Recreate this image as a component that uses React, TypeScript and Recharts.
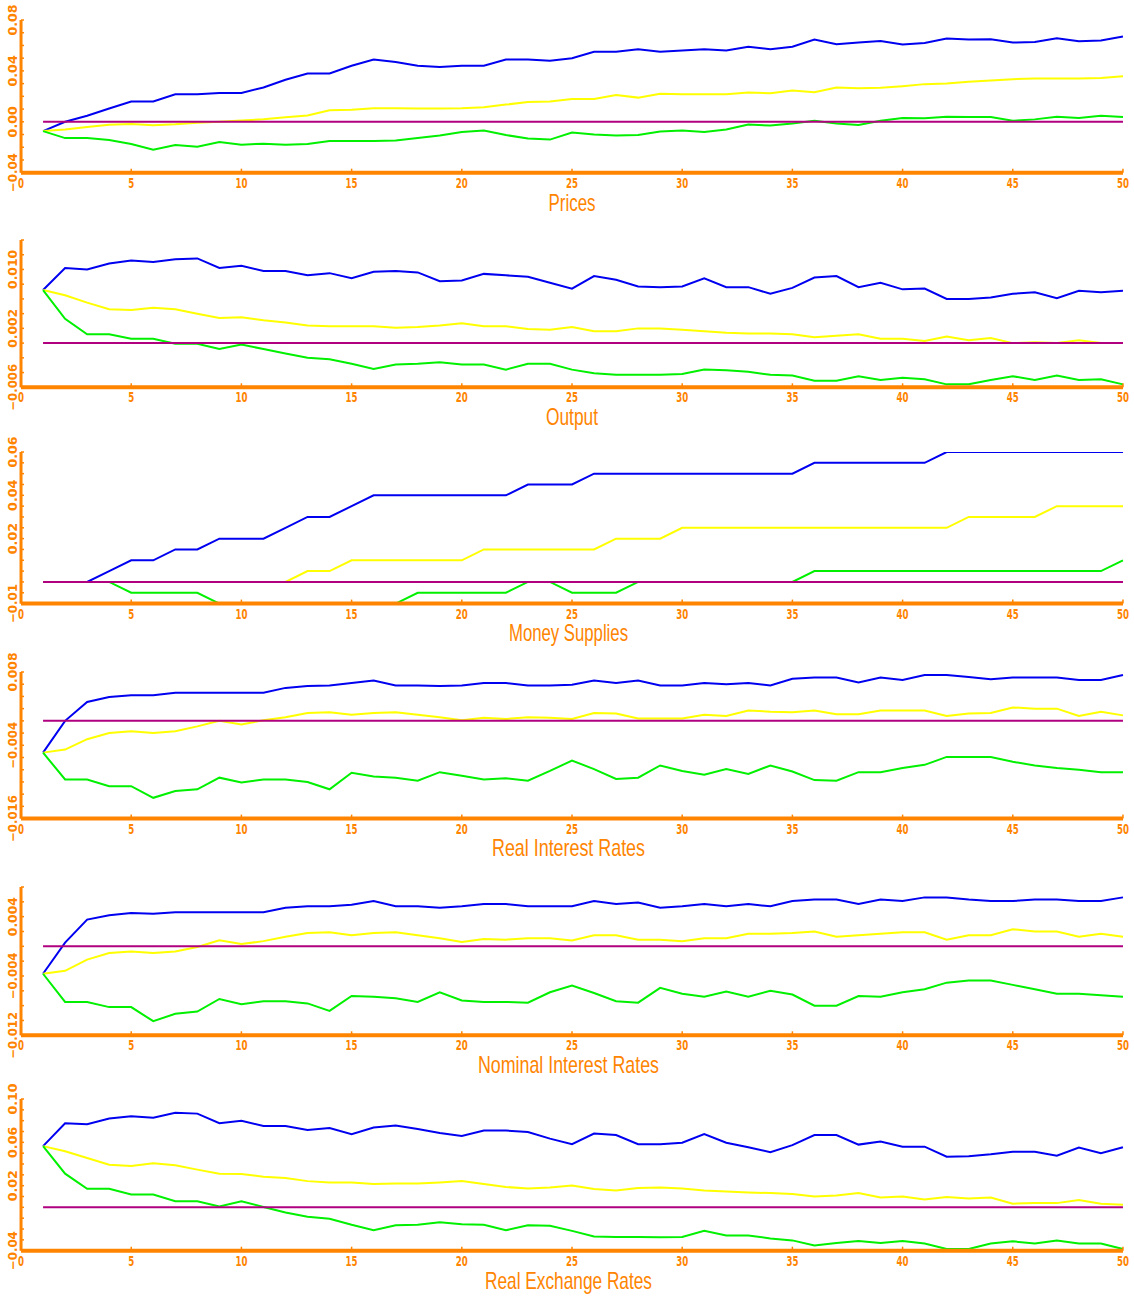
import { LineChart, Line, XAxis, YAxis, ReferenceLine } from 'recharts'

const ORANGE = '#ff8400'
const BLUE = '#0000f0'
const YELLOW = '#ffff00'
const GREEN = '#00f000'
const PURPLE = '#b0007f'

const periods = [
  1, 2, 3, 4, 5, 6, 7, 8, 9, 10, 11, 12, 13, 14, 15, 16, 17, 18, 19, 20, 21, 22, 23, 24, 25,
  26, 27, 28, 29, 30, 31, 32, 33, 34, 35, 36, 37, 38, 39, 40, 41, 42, 43, 44, 45, 46, 47, 48, 49, 50,
]
const xTicks = [0, 5, 10, 15, 20, 25, 30, 35, 40, 45, 50]

// ── Prices ───────────────────────────────────────────────────────────────────
const pricesBlue = [
  -0.0073, 0.0, 0.0047, 0.0105, 0.016, 0.016, 0.0217, 0.0217, 0.0227, 0.0227,
  0.027, 0.033, 0.038, 0.038, 0.044, 0.049, 0.047, 0.044, 0.043, 0.044,
  0.044, 0.049, 0.049, 0.048, 0.05, 0.055, 0.055, 0.057, 0.055, 0.056,
  0.057, 0.056, 0.059, 0.057, 0.059, 0.0646, 0.061, 0.0623, 0.0635, 0.0607,
  0.062, 0.0654, 0.0646, 0.0648, 0.0623, 0.0627, 0.0656, 0.0633, 0.0639, 0.067,
]
const pricesYellow = [
  -0.0073, -0.006, -0.004, -0.0024, -0.0018, -0.0028, -0.002, -0.0008, 0.0, 0.001,
  0.002, 0.0035, 0.005, 0.009, 0.0095, 0.0107, 0.0107, 0.0104, 0.0104, 0.0107,
  0.0115, 0.0135, 0.0155, 0.016, 0.018, 0.018, 0.021, 0.019, 0.022, 0.0217,
  0.0217, 0.0217, 0.023, 0.0225, 0.0245, 0.0233, 0.027, 0.0264, 0.0267, 0.028,
  0.0296, 0.03, 0.0314, 0.0325, 0.0335, 0.034, 0.034, 0.034, 0.0345, 0.0358,
]
const pricesGreen = [
  -0.0073, -0.0128, -0.0128, -0.0144, -0.0175, -0.022, -0.0183, -0.0196, -0.0159, -0.018,
  -0.0172, -0.018, -0.0175, -0.0151, -0.0151, -0.0151, -0.0147, -0.0128, -0.0108, -0.0081,
  -0.0069, -0.0104, -0.0132, -0.014, -0.0085, -0.01, -0.0108, -0.0104, -0.0077, -0.0069,
  -0.0081, -0.0061, -0.0022, -0.003, -0.0014, 0.0008, -0.0013, -0.0026, 0.0008, 0.0029,
  0.0027, 0.0039, 0.0037, 0.0037, 0.0008, 0.0019, 0.0039, 0.0029, 0.0047, 0.0037,
]

// ── Output ───────────────────────────────────────────────────────────────────
const outputBlue = [
  0.0072, 0.0102, 0.01, 0.0108, 0.0112, 0.011, 0.0114, 0.0115, 0.0102, 0.0105,
  0.0098, 0.0098, 0.0092, 0.0095, 0.0088, 0.0097, 0.0098, 0.0096, 0.0084, 0.0085,
  0.0094, 0.0092, 0.009, 0.0082, 0.0074, 0.0091, 0.0086, 0.0077, 0.0076, 0.0077,
  0.0088, 0.0076, 0.0076, 0.0067, 0.0075, 0.0089, 0.0091, 0.0076, 0.0082, 0.0073,
  0.0074, 0.006, 0.006, 0.0062, 0.0067, 0.0069, 0.0061, 0.0071, 0.0069, 0.0071,
]
const outputYellow = [
  0.0072, 0.0065, 0.0055, 0.0046, 0.0045, 0.0048, 0.0046, 0.004, 0.0034, 0.0035,
  0.0031, 0.0028, 0.0024, 0.0023, 0.0023, 0.0023, 0.0021, 0.0022, 0.0024, 0.0027,
  0.0023, 0.0023, 0.0019, 0.0018, 0.0022, 0.0016, 0.0016, 0.002, 0.002, 0.0018,
  0.0016, 0.0014, 0.0013, 0.0013, 0.0012, 0.0008, 0.001, 0.0012, 0.0006, 0.0006,
  0.0003, 0.0009, 0.0004, 0.0007, 0.0, 0.0001, 0.0, 0.0004, 0.0, 0.0,
]
const outputGreen = [
  0.0072, 0.0033, 0.0012, 0.0012, 0.0006, 0.0006, -0.0001, -0.0001, -0.0008, -0.0002,
  -0.0008, -0.0014, -0.002, -0.0022, -0.0028, -0.0035, -0.0029, -0.0028, -0.0026, -0.0029,
  -0.0029, -0.0036, -0.0028, -0.0028, -0.0036, -0.0041, -0.0043, -0.0043, -0.0043, -0.0042,
  -0.0036, -0.0037, -0.0039, -0.0043, -0.0044, -0.0051, -0.0051, -0.0045, -0.005, -0.0047,
  -0.0049, -0.0056, -0.0056, -0.005, -0.0045, -0.005, -0.0044, -0.005, -0.0049, -0.0056,
]

// ── Money Supplies ───────────────────────────────────────────────────────────
const moneyBlue = [
  0, 0, 0, 0.005, 0.01, 0.01, 0.015, 0.015, 0.02, 0.02,
  0.02, 0.025, 0.03, 0.03, 0.035, 0.04, 0.04, 0.04, 0.04, 0.04,
  0.04, 0.04, 0.045, 0.045, 0.045, 0.05, 0.05, 0.05, 0.05, 0.05,
  0.05, 0.05, 0.05, 0.05, 0.05, 0.055, 0.055, 0.055, 0.055, 0.055,
  0.055, 0.06, 0.06, 0.06, 0.06, 0.06, 0.06, 0.06, 0.06, 0.06,
]
const moneyYellow = [
  0, 0, 0, 0, 0, 0, 0, 0, 0, 0,
  0, 0, 0.005, 0.005, 0.01, 0.01, 0.01, 0.01, 0.01, 0.01,
  0.015, 0.015, 0.015, 0.015, 0.015, 0.015, 0.02, 0.02, 0.02, 0.025,
  0.025, 0.025, 0.025, 0.025, 0.025, 0.025, 0.025, 0.025, 0.025, 0.025,
  0.025, 0.025, 0.03, 0.03, 0.03, 0.03, 0.035, 0.035, 0.035, 0.035,
]
const moneyGreen = [
  0, 0, 0, 0, -0.005, -0.005, -0.005, -0.005, -0.01, -0.01,
  -0.01, -0.01, -0.01, -0.01, -0.01, -0.01, -0.01, -0.005, -0.005, -0.005,
  -0.005, -0.005, 0, 0, -0.005, -0.005, -0.005, 0, 0, 0,
  0, 0, 0, 0, 0, 0.005, 0.005, 0.005, 0.005, 0.005,
  0.005, 0.005, 0.005, 0.005, 0.005, 0.005, 0.005, 0.005, 0.005, 0.01,
]

// ── Real Interest Rates ──────────────────────────────────────────────────────
const realRateBlue = [
  -0.0052, 0.0, 0.0031, 0.0039, 0.0042, 0.0042, 0.0046, 0.0046, 0.0046, 0.0046,
  0.0046, 0.0054, 0.0057, 0.0058, 0.0062, 0.0066, 0.0058, 0.0058, 0.0057, 0.0058,
  0.0062, 0.0062, 0.0058, 0.0058, 0.0059, 0.0066, 0.0062, 0.0066, 0.0058, 0.0058,
  0.0062, 0.006, 0.0062, 0.0058, 0.0069, 0.0071, 0.0071, 0.0063, 0.0071, 0.0067,
  0.0075, 0.0075, 0.0072, 0.0068, 0.0071, 0.0071, 0.0071, 0.0067, 0.0067, 0.0075,
]
const realRateYellow = [
  -0.0052, -0.0047, -0.003, -0.002, -0.0017, -0.002, -0.0017, -0.0009, 0.0, -0.0006,
  0.0001, 0.0006, 0.0013, 0.0014, 0.001, 0.0013, 0.0014, 0.001, 0.0006, 0.0001,
  0.0005, 0.0003, 0.0006, 0.0005, 0.0003, 0.0013, 0.0012, 0.0004, 0.0004, 0.0004,
  0.001, 0.0008, 0.0017, 0.0015, 0.0014, 0.0017, 0.0011, 0.0011, 0.0017, 0.0017,
  0.0017, 0.0008, 0.0012, 0.0013, 0.0022, 0.002, 0.002, 0.0008, 0.0015, 0.0009,
]
const realRateGreen = [
  -0.0052, -0.0096, -0.0096, -0.0107, -0.0107, -0.0126, -0.0115, -0.0112, -0.0093, -0.0101,
  -0.0096, -0.0096, -0.01, -0.0112, -0.0085, -0.0091, -0.0093, -0.0098, -0.0084, -0.009,
  -0.0096, -0.0094, -0.0098, -0.0082, -0.0065, -0.0079, -0.0095, -0.0093, -0.0073, -0.0082,
  -0.0088, -0.0079, -0.0087, -0.0073, -0.0083, -0.0097, -0.0098, -0.0084, -0.0084, -0.0077,
  -0.0072, -0.0059, -0.0059, -0.0059, -0.0067, -0.0073, -0.0077, -0.008, -0.0084, -0.0084,
]

// ── Nominal Interest Rates ───────────────────────────────────────────────────
const nominalBlue = [
  -0.0037, 0.0005, 0.0036, 0.0042, 0.0045, 0.0044, 0.0046, 0.0046, 0.0046, 0.0046,
  0.0046, 0.0052, 0.0054, 0.0054, 0.0056, 0.0061, 0.0054, 0.0054, 0.0052, 0.0054,
  0.0057, 0.0057, 0.0054, 0.0054, 0.0054, 0.0061, 0.0057, 0.0059, 0.0052, 0.0054,
  0.0057, 0.0054, 0.0057, 0.0054, 0.0061, 0.0063, 0.0063, 0.0057, 0.0063, 0.0061,
  0.0066, 0.0066, 0.0063, 0.0061, 0.0061, 0.0063, 0.0063, 0.0061, 0.0061, 0.0066,
]
const nominalYellow = [
  -0.0037, -0.0033, -0.0018, -0.0009, -0.0007, -0.0009, -0.0007, -0.0001, 0.0008, 0.0003,
  0.0007, 0.0013, 0.0018, 0.0019, 0.0015, 0.0018, 0.0019, 0.0015, 0.0011, 0.0006,
  0.001, 0.0009, 0.0011, 0.0011, 0.0008, 0.0015, 0.0015, 0.0009, 0.0009, 0.0007,
  0.0011, 0.0011, 0.0017, 0.0017, 0.0018, 0.002, 0.0013, 0.0015, 0.0017, 0.0019,
  0.0019, 0.0009, 0.0015, 0.0015, 0.0023, 0.002, 0.002, 0.0013, 0.0017, 0.0013,
]
const nominalGreen = [
  -0.0037, -0.0075, -0.0075, -0.0082, -0.0082, -0.0101, -0.0091, -0.0088, -0.0071, -0.0078,
  -0.0074, -0.0074, -0.0077, -0.0087, -0.0067, -0.0068, -0.007, -0.0075, -0.0062, -0.0073,
  -0.0075, -0.0075, -0.0076, -0.0062, -0.0053, -0.0063, -0.0074, -0.0076, -0.0056, -0.0064,
  -0.0068, -0.0061, -0.0068, -0.006, -0.0065, -0.008, -0.008, -0.0067, -0.0068, -0.0062,
  -0.0058, -0.0049, -0.0046, -0.0046, -0.0052, -0.0058, -0.0064, -0.0064, -0.0066, -0.0068,
]

// ── Real Exchange Rates ──────────────────────────────────────────────────────
const exchangeBlue = [
  0.0565, 0.0776, 0.0767, 0.0819, 0.0841, 0.0828, 0.0872, 0.0865, 0.0776, 0.08,
  0.0751, 0.0751, 0.0713, 0.0732, 0.0676, 0.0737, 0.0755, 0.0723, 0.0686, 0.0658,
  0.0709, 0.0709, 0.0695, 0.0634, 0.0583, 0.0681, 0.0667, 0.0583, 0.0583, 0.0597,
  0.0676, 0.0597, 0.0555, 0.0509, 0.0574, 0.0667, 0.0667, 0.0579, 0.0607, 0.056,
  0.056, 0.0467, 0.0472, 0.049, 0.0513, 0.0513, 0.0476, 0.0551, 0.05, 0.0555,
]
const exchangeYellow = [
  0.0565, 0.0518, 0.0456, 0.0394, 0.0381, 0.0407, 0.0388, 0.0348, 0.0311, 0.0307,
  0.0283, 0.027, 0.0242, 0.023, 0.023, 0.0216, 0.022, 0.022, 0.023, 0.0244,
  0.0216, 0.0188, 0.0174, 0.0183, 0.0202, 0.0169, 0.0155, 0.0179, 0.0183, 0.0174,
  0.0155, 0.0146, 0.0137, 0.0132, 0.0123, 0.01, 0.0109, 0.0132, 0.009, 0.01,
  0.0072, 0.0095, 0.0081, 0.009, 0.0034, 0.0039, 0.0039, 0.0067, 0.0034, 0.0025,
]
const exchangeGreen = [
  0.0565, 0.0311, 0.0171, 0.0171, 0.0118, 0.0118, 0.0056, 0.0056, 0.0009, 0.0056,
  0.0004, -0.0047, -0.0087, -0.0105, -0.0161, -0.0212, -0.0166, -0.0161, -0.0138, -0.0156,
  -0.0161, -0.0212, -0.0166, -0.017, -0.0217, -0.0268, -0.0273, -0.0273, -0.0277, -0.0273,
  -0.0217, -0.0259, -0.0259, -0.0287, -0.0305, -0.0352, -0.0328, -0.031, -0.0328, -0.031,
  -0.0333, -0.0384, -0.0384, -0.0333, -0.0314, -0.0333, -0.0305, -0.0333, -0.0333, -0.0384,
]

interface Panel {
  title: string
  titleX: number
  titleWidth: number
  top: number
  bottom: number
  domain: [number, number]
  minorStep: number
  labels: number[]
  labelText: string[]
  blue: number[]
  yellow: number[]
  green: number[]
}

const panels: Panel[] = [
  { title: 'Prices', titleX: 572, titleWidth: 47, top: 20, bottom: 172.7, domain: [-0.04, 0.08], minorStep: 0.01,
    labels: [-0.04, 0, 0.04, 0.08], labelText: ['\u22120.04', '0.00', '0.04', '0.08'],
    blue: pricesBlue, yellow: pricesYellow, green: pricesGreen },
  { title: 'Output', titleX: 572, titleWidth: 52, top: 240, bottom: 387.3, domain: [-0.006, 0.014], minorStep: 0.002,
    labels: [-0.006, 0.002, 0.01], labelText: ['\u22120.006', '0.002', '0.010'],
    blue: outputBlue, yellow: outputYellow, green: outputGreen },
  { title: 'Money Supplies', titleX: 568.5, titleWidth: 119, top: 451.7, bottom: 603.3, domain: [-0.01, 0.06], minorStep: 0.005,
    labels: [-0.01, 0.02, 0.04, 0.06], labelText: ['\u22120.01', '0.02', '0.04', '0.06'],
    blue: moneyBlue, yellow: moneyYellow, green: moneyGreen },
  { title: 'Real Interest Rates', titleX: 568.5, titleWidth: 153, top: 671.7, bottom: 818.3, domain: [-0.016, 0.008], minorStep: 0.002,
    labels: [-0.016, -0.004, 0.008], labelText: ['\u22120.016', '\u22120.004', '0.008'],
    blue: realRateBlue, yellow: realRateYellow, green: realRateGreen },
  { title: 'Nominal Interest Rates', titleX: 568.5, titleWidth: 181, top: 886.7, bottom: 1035, domain: [-0.012, 0.008], minorStep: 0.002,
    labels: [-0.012, -0.004, 0.004], labelText: ['\u22120.012', '\u22120.004', '0.004'],
    blue: nominalBlue, yellow: nominalYellow, green: nominalGreen },
  { title: 'Real Exchange Rates', titleX: 568.5, titleWidth: 167, top: 1099, bottom: 1250.7, domain: [-0.04, 0.1], minorStep: 0.01,
    labels: [-0.04, 0.02, 0.06, 0.1], labelText: ['\u22120.04', '0.02', '0.06', '0.10'],
    blue: exchangeBlue, yellow: exchangeYellow, green: exchangeGreen },
]

const TOP_PAD = 30
const X_AXIS_H = 28
const CHART_W = 1134

function tickSteps(min: number, max: number, step: number) {
  const out: number[] = []
  const n = Math.round((max - min) / step)
  for (let i = 0; i <= n; i++) out.push(+(min + i * step).toFixed(6))
  return out
}

function ChartPanel({ p }: { p: Panel }) {
  const plotH = p.bottom - p.top
  const height = plotH + TOP_PAD + X_AXIS_H
  const axisY = TOP_PAD + plotH
  const data = periods.map((t, i) => ({ t, blue: p.blue[i], yellow: p.yellow[i], green: p.green[i] }))
  const yTicks = tickSteps(p.domain[0], p.domain[1], p.minorStep)

  const YTick = (props: any) => {
    const { y, payload } = props
    const idx = p.labels.findIndex((v) => Math.abs(v - payload.value) < 1e-9)
    const txt = idx >= 0 ? p.labelText[idx] : ''
    return (
      <g>
        <line x1={21} x2={24} y1={y} y2={y} stroke={ORANGE} strokeWidth={1.5} />
        {idx >= 0 && (
          <text
            x={13} y={y}
            transform={`rotate(-90 13 ${y})`}
            textAnchor="middle" dominantBaseline="central"
            fill={ORANGE} fontSize={12} fontWeight="bold"
            fontFamily="'DejaVu Sans Condensed', 'DejaVu Sans', sans-serif"
            textLength={txt.length * 7.8} lengthAdjust="spacingAndGlyphs"
          >
            {txt}
          </text>
        )}
      </g>
    )
  }

  const XTick = (props: any) => {
    const { x, payload } = props
    const s = String(payload.value)
    return (
      <g>
        <line x1={x} x2={x} y1={axisY} y2={axisY - 4} stroke={ORANGE} strokeWidth={1.5} />
        <text
          x={x} y={axisY + 10}
          textAnchor="middle" dominantBaseline="central"
          fill={ORANGE} fontSize={14} fontWeight="bold"
          fontFamily="'DejaVu Sans Condensed', 'DejaVu Sans', sans-serif"
          textLength={s.length * 6} lengthAdjust="spacingAndGlyphs"
        >
          {s}
        </text>
      </g>
    )
  }

  return (
    <div style={{ position: 'absolute', left: 0, top: p.top - TOP_PAD, width: CHART_W, height: height + 50 }}>
      <LineChart width={CHART_W} height={height} data={data} margin={{ top: TOP_PAD, right: 11, left: 0, bottom: 0 }}>
        <XAxis
          type="number" dataKey="t" domain={[0, 50]} ticks={xTicks} interval={0}
          height={X_AXIS_H} tickLine={false} tick={<XTick />}
          axisLine={{ stroke: ORANGE, strokeWidth: 4 }}
        />
        <YAxis
          type="number" domain={p.domain} ticks={yTicks} interval={0} allowDataOverflow
          width={21} tickLine={false} tick={<YTick />}
          axisLine={{ stroke: ORANGE, strokeWidth: 3 }}
        />
        <Line type="linear" dataKey="blue" stroke={BLUE} strokeWidth={2} dot={false} isAnimationActive={false} />
        <Line type="linear" dataKey="yellow" stroke={YELLOW} strokeWidth={2} dot={false} isAnimationActive={false} />
        <Line type="linear" dataKey="green" stroke={GREEN} strokeWidth={2} dot={false} isAnimationActive={false} />
        <ReferenceLine segment={[{ x: 1, y: 0 }, { x: 50, y: 0 }]} stroke={PURPLE} strokeWidth={2} />
      </LineChart>
      <svg width={CHART_W} height={50} style={{ position: 'absolute', left: 0, top: axisY }}>
        <text
          x={p.titleX} y={38} textAnchor="middle"
          fill={ORANGE} fontSize={24}
          fontFamily="'Liberation Sans Narrow', 'Liberation Sans', sans-serif"
          textLength={p.titleWidth} lengthAdjust="spacingAndGlyphs"
        >
          {p.title}
        </text>
      </svg>
    </div>
  )
}

export default function App() {
  return (
    <div style={{ position: 'absolute', left: 0, top: 0, width: 1134, height: 1298, background: '#fff' }}>
      {panels.map((p) => (
        <ChartPanel key={p.title} p={p} />
      ))}
    </div>
  )
}
